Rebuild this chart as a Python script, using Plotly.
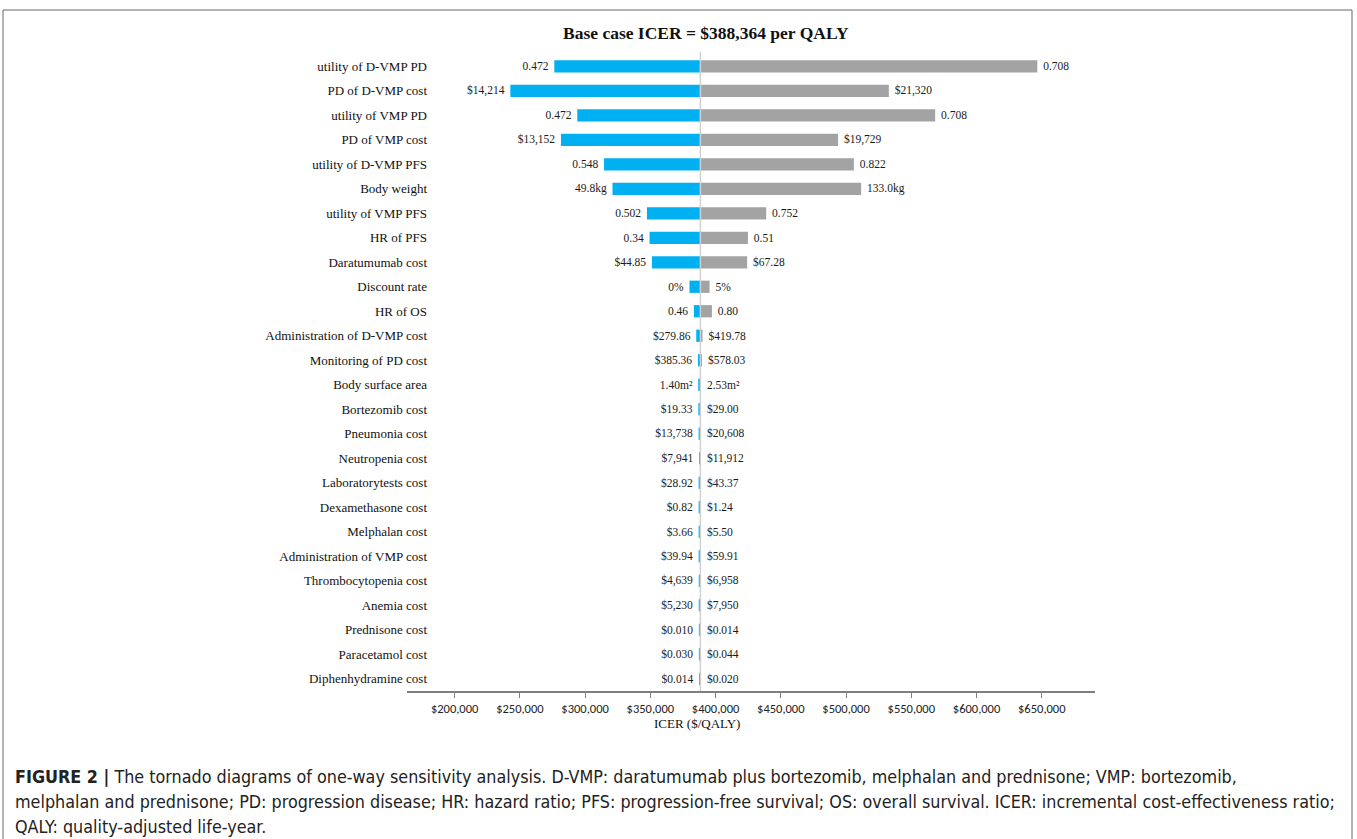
import plotly.graph_objects as go

# ---------------- data ----------------
params = [
    "utility of D-VMP PD", "PD of D-VMP cost", "utility of VMP PD", "PD of VMP cost",
    "utility of D-VMP PFS", "Body weight", "utility of VMP PFS", "HR of PFS",
    "Daratumumab cost", "Discount rate", "HR of OS", "Administration of D-VMP cost",
    "Monitoring of PD cost", "Body surface area", "Bortezomib cost", "Pneumonia cost",
    "Neutropenia cost", "Laboratorytests cost", "Dexamethasone cost", "Melphalan cost",
    "Administration of VMP cost", "Thrombocytopenia cost", "Anemia cost",
    "Prednisone cost", "Paracetamol cost", "Diphenhydramine cost",
]
low_icer = [
    276400, 242700, 294000, 281500, 314500, 321000, 347400, 349400, 351200,
    380000, 383400, 385200, 386500, 386700, 386800, 387000, 387900, 387000,
    387000, 387000, 387000, 387100, 387100, 387200, 387200, 387900,
]
high_icer = [
    646600, 532800, 568300, 493900, 506000, 511600, 438800, 424800, 424200,
    395400, 397200, 390000, 388900, 388800, 388700, 388700, 388800, 388700,
    388700, 388700, 388700, 388700, 388700, 388700, 388700, 388700,
]
low_labels = [
    "0.472", "$14,214", "0.472", "$13,152", "0.548", "49.8kg", "0.502", "0.34",
    "$44.85", "0%", "0.46", "$279.86", "$385.36", "1.40m²", "$19.33", "$13,738",
    "$7,941", "$28.92", "$0.82", "$3.66", "$39.94", "$4,639", "$5,230", "$0.010",
    "$0.030", "$0.014",
]
high_labels = [
    "0.708", "$21,320", "0.708", "$19,729", "0.822", "133.0kg", "0.752", "0.51",
    "$67.28", "5%", "0.80", "$419.78", "$578.03", "2.53m²", "$29.00", "$20,608",
    "$11,912", "$43.37", "$1.24", "$5.50", "$59.91", "$6,958", "$7,950", "$0.014",
    "$0.044", "$0.020",
]
base_icer = 388364
x_ticks = [200000, 250000, 300000, 350000, 400000, 450000, 500000, 550000, 600000, 650000]
x_tick_labels = ["$200,000", "$250,000", "$300,000", "$350,000", "$400,000",
                 "$450,000", "$500,000", "$550,000", "$600,000", "$650,000"]

title_text = "<b>Base case ICER = $388,364 per QALY</b>"
axis_title = "ICER ($/QALY)"
caption_lines = [
    "<b>FIGURE 2 |</b> The tornado diagrams of one-way sensitivity analysis. D-VMP: daratumumab plus bortezomib, melphalan and prednisone; VMP: bortezomib,",
    "melphalan and prednisone; PD: progression disease; HR: hazard ratio; PFS: progression-free survival; OS: overall survival. ICER: incremental cost-effectiveness ratio;",
    "QALY: quality-adjusted life-year.",
]

# ---------------- layout helpers ----------------
W, H = 1357, 839
def fx(p):
    return p / W
def fy(p):
    return 1 - p / H

SERIF = "Liberation Serif, Times New Roman, serif"
NARROW = "Liberation Sans Narrow, Arial Narrow, DejaVu Sans Condensed, Liberation Sans, sans-serif"
NBSP = "\u00a0"

fig = go.Figure()
bar_font = dict(family=SERIF, size=11.5, color="#1a1a1a")
fig.add_trace(go.Bar(
    y=params, x=[v - base_icer for v in low_icer], base=base_icer, orientation="h",
    marker=dict(color="#00B0F0", line=dict(width=0)), width=0.5,
    text=low_labels, texttemplate="%{text}" + NBSP, textposition="outside", textfont=bar_font,
    constraintext="none", cliponaxis=False, showlegend=False, hoverinfo="skip",
))
fig.add_trace(go.Bar(
    y=params, x=[v - base_icer for v in high_icer], base=base_icer, orientation="h",
    marker=dict(color="#A3A3A3", line=dict(width=0)), width=0.5,
    text=high_labels, texttemplate=NBSP + "%{text}", textposition="outside", textfont=bar_font,
    constraintext="none", cliponaxis=False, showlegend=False, hoverinfo="skip",
))

plot_top, plot_bot = 54, 691
fig.update_layout(
    width=W, height=H, autosize=False,
    margin=dict(l=0, r=0, t=0, b=0),
    paper_bgcolor="white", plot_bgcolor="white",
    barmode="overlay",
    xaxis=dict(
        domain=[fx(407), fx(1095)], range=[163500, 690800],
        tickmode="array", tickvals=x_ticks, ticktext=x_tick_labels,
        ticks="outside", ticklen=5, tickcolor="#7f7f7f", tickwidth=1,
        showline=True, linecolor="#7f7f7f", linewidth=1.5,
        showgrid=False, zeroline=False,
        tickfont=dict(family="Carlito, Liberation Sans, sans-serif", size=12.5, color="#222"),
        anchor="y",
    ),
    yaxis=dict(
        domain=[fy(plot_bot), fy(plot_top)],
        categoryorder="array", categoryarray=params, autorange="reversed",
        showline=False, ticks="", showgrid=False, zeroline=False,
        tickfont=dict(family=SERIF, size=13, color="#111"),
        ticklabelstandoff=-21,
    ),
    shapes=[
        dict(type="line", xref="x", yref="paper", x0=base_icer, x1=base_icer,
             y0=fy(plot_bot), y1=fy(plot_top - 2), line=dict(color="#D0D0D0", width=1.5),
             layer="above"),
        dict(type="rect", xref="paper", yref="paper", x0=fx(3), x1=fx(1352),
             y0=-0.02, y1=fy(10), line=dict(color="#666666", width=1), layer="below"),
    ],
)

annotations = [
    dict(text=title_text, x=fx(706), y=fy(33), xref="paper", yref="paper",
         showarrow=False, xanchor="center", yanchor="middle",
         font=dict(family=SERIF, size=17.5, color="#111")),
    dict(text=axis_title, x=fx(697), y=fy(723), xref="paper", yref="paper",
         showarrow=False, xanchor="center", yanchor="middle",
         font=dict(family=SERIF, size=13, color="#111")),
]
cap_y = [776, 801, 826]
for line, yy in zip(caption_lines, cap_y):
    annotations.append(dict(text=line, x=fx(13), y=fy(yy), xref="paper", yref="paper",
                            showarrow=False, xanchor="left", yanchor="middle",
                            font=dict(family=NARROW, size=17.8, color="#222")))
fig.update_layout(annotations=annotations)

fig.write_html("out.html")
